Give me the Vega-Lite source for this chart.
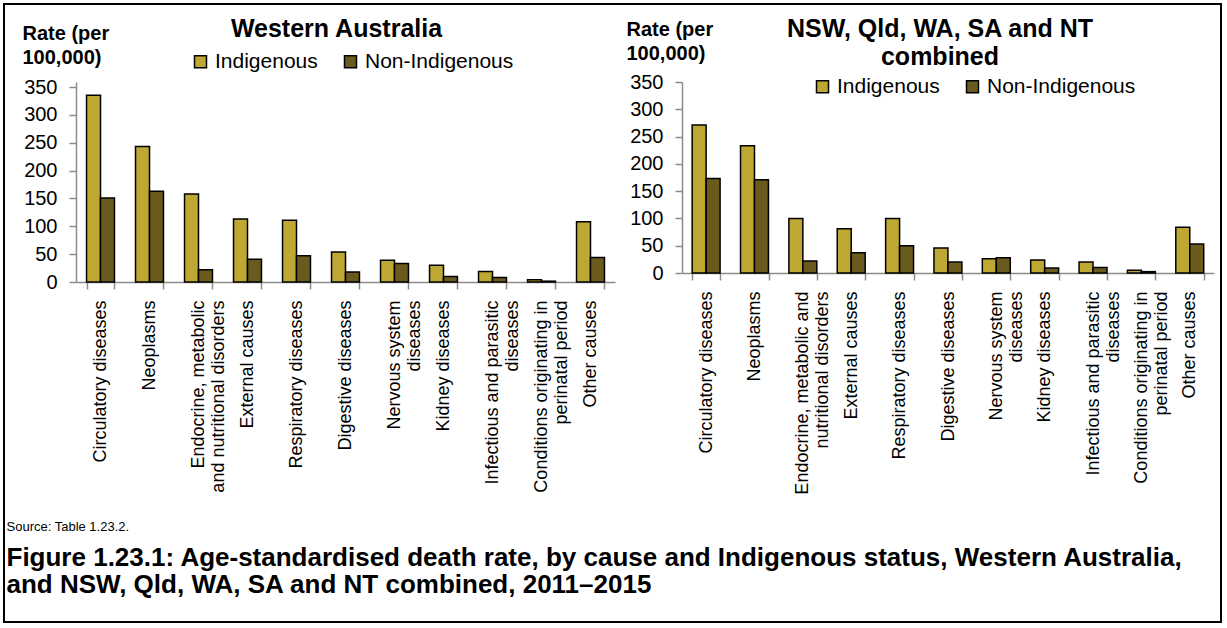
{
  "$schema": "https://vega.github.io/schema/vega-lite/v6.json",
  "padding": 4,
  "bounds": "flush",
  "spacing": 67,
  "config": {
    "font": "Liberation Sans",
    "view": {"stroke": null},
    "axis": {"labelFont": "Liberation Sans", "labelColor": "black", "domainColor": "#8c8c8c", "tickColor": "#8c8c8c", "domainWidth": 1.5, "tickWidth": 1.5, "grid": false, "tickSize": 7, "titleColor": "black"},
    "title": {"color": "black", "font": "Liberation Sans"},
    "legend": {"labelFont": "Liberation Sans", "labelColor": "black"}
  },
  "datasets": {
    "wa": [
      {"cause": "Circulatory diseases", "group": "Indigenous", "rate": 335},
      {"cause": "Circulatory diseases", "group": "Non-Indigenous", "rate": 151},
      {"cause": "Neoplasms", "group": "Indigenous", "rate": 243},
      {"cause": "Neoplasms", "group": "Non-Indigenous", "rate": 163},
      {"cause": "Endocrine, metabolic and nutritional disorders", "group": "Indigenous", "rate": 158},
      {"cause": "Endocrine, metabolic and nutritional disorders", "group": "Non-Indigenous", "rate": 22},
      {"cause": "External causes", "group": "Indigenous", "rate": 113},
      {"cause": "External causes", "group": "Non-Indigenous", "rate": 41},
      {"cause": "Respiratory diseases", "group": "Indigenous", "rate": 111},
      {"cause": "Respiratory diseases", "group": "Non-Indigenous", "rate": 47},
      {"cause": "Digestive diseases", "group": "Indigenous", "rate": 54},
      {"cause": "Digestive diseases", "group": "Non-Indigenous", "rate": 18},
      {"cause": "Nervous system diseases", "group": "Indigenous", "rate": 39},
      {"cause": "Nervous system diseases", "group": "Non-Indigenous", "rate": 33},
      {"cause": "Kidney diseases", "group": "Indigenous", "rate": 30},
      {"cause": "Kidney diseases", "group": "Non-Indigenous", "rate": 10},
      {"cause": "Infectious and parasitic diseases", "group": "Indigenous", "rate": 19},
      {"cause": "Infectious and parasitic diseases", "group": "Non-Indigenous", "rate": 8},
      {"cause": "Conditions originating in perinatal period", "group": "Indigenous", "rate": 4},
      {"cause": "Conditions originating in perinatal period", "group": "Non-Indigenous", "rate": 1.5},
      {"cause": "Other causes", "group": "Indigenous", "rate": 108},
      {"cause": "Other causes", "group": "Non-Indigenous", "rate": 44}
    ],
    "combined": [
      {"cause": "Circulatory diseases", "group": "Indigenous", "rate": 271},
      {"cause": "Circulatory diseases", "group": "Non-Indigenous", "rate": 173},
      {"cause": "Neoplasms", "group": "Indigenous", "rate": 233},
      {"cause": "Neoplasms", "group": "Non-Indigenous", "rate": 171},
      {"cause": "Endocrine, metabolic and nutritional disorders", "group": "Indigenous", "rate": 100},
      {"cause": "Endocrine, metabolic and nutritional disorders", "group": "Non-Indigenous", "rate": 22},
      {"cause": "External causes", "group": "Indigenous", "rate": 81},
      {"cause": "External causes", "group": "Non-Indigenous", "rate": 37},
      {"cause": "Respiratory diseases", "group": "Indigenous", "rate": 100},
      {"cause": "Respiratory diseases", "group": "Non-Indigenous", "rate": 50},
      {"cause": "Digestive diseases", "group": "Indigenous", "rate": 46},
      {"cause": "Digestive diseases", "group": "Non-Indigenous", "rate": 20},
      {"cause": "Nervous system diseases", "group": "Indigenous", "rate": 26},
      {"cause": "Nervous system diseases", "group": "Non-Indigenous", "rate": 28},
      {"cause": "Kidney diseases", "group": "Indigenous", "rate": 24},
      {"cause": "Kidney diseases", "group": "Non-Indigenous", "rate": 9},
      {"cause": "Infectious and parasitic diseases", "group": "Indigenous", "rate": 20},
      {"cause": "Infectious and parasitic diseases", "group": "Non-Indigenous", "rate": 10},
      {"cause": "Conditions originating in perinatal period", "group": "Indigenous", "rate": 5},
      {"cause": "Conditions originating in perinatal period", "group": "Non-Indigenous", "rate": 2.5},
      {"cause": "Other causes", "group": "Indigenous", "rate": 84},
      {"cause": "Other causes", "group": "Non-Indigenous", "rate": 53}
    ]
  },
  "hconcat": [
    {
      "width": 539,
      "height": 200,
      "data": {"name": "wa"},
      "title": {"text": "Western Australia", "fontSize": 25, "fontWeight": "bold", "frame": "group", "anchor": "middle", "dx": -9, "baseline": "alphabetic", "offset": -58},
      "encoding": {
        "x": {
          "field": "cause", "type": "nominal", "sort": null,
          "scale": {"paddingInner": 0.43, "paddingOuter": 0.215},
          "axis": {
            "labelAngle": 270, "labelFontSize": 18, "labelLineHeight": 20, "labelLimit": 0, "labelOverlap": false,
            "tickBand": "extent", "labelPadding": 11,
            "labelExpr": "datum.value == 'Endocrine, metabolic and nutritional disorders' ? ['Endocrine, metabolic\u00a0\u00a0', 'and nutritional disorders'] : datum.value == 'Nervous system diseases' ? ['Nervous system', 'diseases\u00a0\u00a0\u00a0\u00a0\u00a0\u00a0'] : datum.value == 'Infectious and parasitic diseases' ? ['Infectious and parasitic', 'diseases\u00a0\u00a0\u00a0\u00a0\u00a0\u00a0\u00a0\u00a0\u00a0\u00a0\u00a0'] : datum.value == 'Conditions originating in perinatal period' ? ['Conditions originating in', 'perinatal period\u00a0\u00a0\u00a0\u00a0\u00a0\u00a0\u00a0'] : datum.label",
            "title": "Source: Table 1.23.2.", "titleFontSize": 13, "titleFontWeight": "normal", "titleAlign": "left", "titleBaseline": "alphabetic", "titleAngle": 0, "titleX": -70, "titleY": 248
          }
        },
        "y": {
          "field": "rate", "type": "quantitative",
          "scale": {"domain": [0, 359], "nice": false},
          "axis": {
            "values": [0, 50, 100, 150, 200, 250, 300, 350],
            "labelFontSize": 20, "labelPadding": 12,
            "title": ["Rate (per", "100,000)"], "titleAngle": 0, "titleAlign": "left", "titleBaseline": "top",
            "titleX": -54, "titleY": -59, "titleFontSize": 20, "titleFontWeight": "bold", "titleLineHeight": 24
          }
        }
      },
      "layer": [
        {
          "mark": {"type": "bar", "stroke": "black", "strokeWidth": 1.5},
          "encoding": {
            "xOffset": {"field": "group", "type": "nominal", "sort": ["Indigenous", "Non-Indigenous"]},
            "color": {
              "field": "group", "type": "nominal",
              "scale": {"domain": ["Indigenous", "Non-Indigenous"], "range": ["#bfa733", "#6b5a1e"]},
              "legend": {"orient": "none", "legendX": 114, "legendY": -31, "direction": "horizontal", "title": null, "labelFontSize": 21, "symbolType": "square", "symbolSize": 144, "symbolStrokeColor": "black", "symbolStrokeWidth": 1.5, "columnPadding": 22, "labelOffset": 4, "padding": 0}
            }
          }
        },
        {
          "mark": {"type": "text", "text": ""},
          "encoding": {
            "stroke": {
              "field": "rate", "type": "quantitative",
              "scale": {"range": ["rgba(255,255,255,0)", "rgba(255,255,255,0)"]},
              "legend": {"orient": "none", "legendX": -72, "legendY": -78, "direction": "horizontal", "title": null, "labelExpr": "''", "labelFontSize": 0, "labelOpacity": 0, "labelOffset": 0, "tickCount": 2, "gradientLength": 1217, "gradientThickness": 618, "gradientStrokeColor": "black", "gradientStrokeWidth": 2, "padding": 0}
            }
          }
        }
      ]
    },
    {
      "width": 532,
      "height": 191,
      "data": {"name": "combined"},
      "title": {"text": ["NSW, Qld, WA, SA and NT", "combined"], "fontSize": 25, "fontWeight": "bold", "frame": "group", "anchor": "middle", "dx": -8, "lineHeight": 28, "baseline": "alphabetic", "offset": -71},
      "mark": {"type": "bar", "stroke": "black", "strokeWidth": 1.5},
      "encoding": {
        "x": {
          "field": "cause", "type": "nominal", "sort": null,
          "scale": {"paddingInner": 0.42, "paddingOuter": 0.21},
          "axis": {
            "labelAngle": 270, "labelFontSize": 18, "labelLineHeight": 20, "labelLimit": 0, "labelOverlap": false,
            "tickBand": "extent", "labelPadding": 11,
            "labelExpr": "datum.value == 'Endocrine, metabolic and nutritional disorders' ? ['Endocrine, metabolic and', 'nutritional disorders\u00a0\u00a0\u00a0\u00a0\u00a0'] : datum.value == 'Nervous system diseases' ? ['Nervous system', 'diseases\u00a0\u00a0\u00a0\u00a0\u00a0\u00a0'] : datum.value == 'Infectious and parasitic diseases' ? ['Infectious and parasitic', 'diseases\u00a0\u00a0\u00a0\u00a0\u00a0\u00a0\u00a0\u00a0\u00a0\u00a0\u00a0'] : datum.value == 'Conditions originating in perinatal period' ? ['Conditions originating in', 'perinatal period\u00a0\u00a0\u00a0\u00a0\u00a0\u00a0\u00a0'] : datum.label",
            "title": ["Figure 1.23.1: Age-standardised death rate, by cause and Indigenous status, Western Australia,", "and NSW, Qld, WA, SA and NT combined, 2011–2015"],
            "titleFontSize": 26, "titleFontWeight": "bold", "titleAlign": "left", "titleBaseline": "alphabetic", "titleAngle": 0, "titleX": -676, "titleY": 292, "titleLineHeight": 27
          }
        },
        "xOffset": {"field": "group", "type": "nominal", "sort": ["Indigenous", "Non-Indigenous"]},
        "y": {
          "field": "rate", "type": "quantitative",
          "scale": {"domain": [0, 350], "nice": false},
          "axis": {
            "values": [0, 50, 100, 150, 200, 250, 300, 350],
            "labelFontSize": 20, "labelPadding": 12,
            "title": ["Rate (per", "100,000)"], "titleAngle": 0, "titleAlign": "left", "titleBaseline": "top",
            "titleX": -56, "titleY": -63, "titleFontSize": 20, "titleFontWeight": "bold", "titleLineHeight": 24
          }
        },
        "color": {
          "field": "group", "type": "nominal",
          "scale": {"domain": ["Indigenous", "Non-Indigenous"], "range": ["#bfa733", "#6b5a1e"]},
          "legend": {"orient": "none", "legendX": 130, "legendY": -6, "direction": "horizontal", "title": null, "labelFontSize": 21, "symbolType": "square", "symbolSize": 144, "symbolStrokeColor": "black", "symbolStrokeWidth": 1.5, "columnPadding": 22, "labelOffset": 4, "padding": 0}
        }
      }
    }
  ],
  "resolve": {"scale": {"color": "independent", "stroke": "independent"}, "legend": {"color": "independent", "stroke": "independent"}}
}
